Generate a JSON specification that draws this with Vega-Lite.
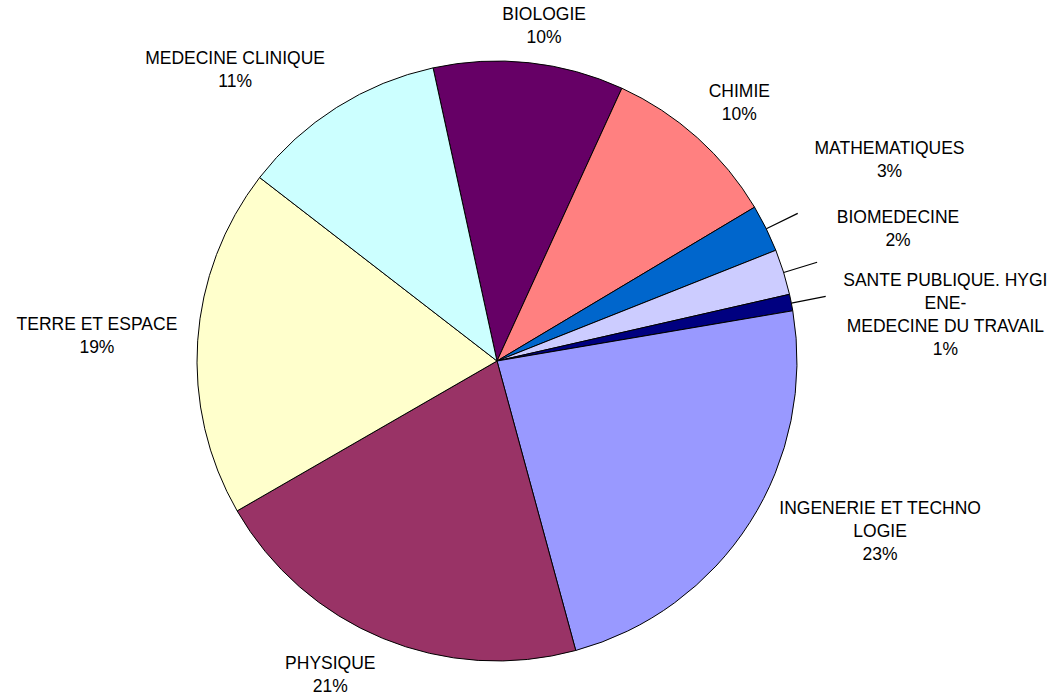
{
  "$schema": "https://vega.github.io/schema/vega-lite/v6.json",
  "width": 994,
  "height": 670,
  "autosize": {"type": "none"},
  "padding": {"left": 0, "top": 26, "right": 62, "bottom": 0},
  "background": "white",
  "config": {"view": {"stroke": null}},
  "data": {"values": [
    {"order": 1, "name": "BIOLOGIE", "value": 10.25},
    {"order": 2, "name": "CHIMIE", "value": 9.6},
    {"order": 3, "name": "MATHEMATIQUES", "value": 2.55},
    {"order": 4, "name": "BIOMEDECINE", "value": 2.45},
    {"order": 5, "name": "SANTE PUBLIQUE. HYGI\nENE-\nMEDECINE DU TRAVAIL", "value": 0.89},
    {"order": 6, "name": "INGENERIE ET TECHNO\nLOGIE", "value": 23.45},
    {"order": 7, "name": "PHYSIQUE", "value": 20.9},
    {"order": 8, "name": "TERRE ET ESPACE", "value": 18.8},
    {"order": 9, "name": "MEDECINE CLINIQUE", "value": 11.11}
  ]},
  "transform": [
    {"stack": "value", "groupby": [], "sort": [{"field": "order", "order": "ascending"}], "as": ["v0", "v1"]},
    {"calculate": "(datum.v0 + datum.v1) / 2", "as": "mid"},
    {"calculate": "datum.mid + 0.06", "as": "mid2"},
    {"calculate": "datum.name + '\\n' + format(datum.value, '.0f') + '%'", "as": "label"}
  ],
  "layer": [
    {
      "mark": {"type": "arc", "outerRadius": 300, "stroke": "black", "strokeWidth": 1},
      "encoding": {
        "theta": {"field": "v0", "type": "quantitative", "scale": {"type": "linear", "domain": [0, 100], "range": [-0.2147, 6.0685]}},
        "theta2": {"field": "v1"},
        "color": {"field": "order", "type": "nominal", "legend": null,
          "scale": {"domain": [1, 2, 3, 4, 5, 6, 7, 8, 9],
                    "range": ["#660066", "#FF8080", "#0066CC", "#CCCCFF", "#000080", "#9999FF", "#993366", "#FFFFCC", "#CCFFFF"]}}
      }
    },
    {
      "transform": [{"filter": "datum.order >= 3 && datum.order <= 5"}],
      "mark": {"type": "arc", "innerRadius": 300, "outerRadius": 335, "fill": "black"},
      "encoding": {
        "theta": {"field": "mid", "type": "quantitative", "scale": {"type": "linear", "domain": [0, 100], "range": [-0.2147, 6.0685]}},
        "theta2": {"field": "mid2"}
      }
    },
    {
      "transform": [{"filter": "datum.order == 1"}],
      "mark": {"type": "text", "radius": 337, "dx": 11, "dy": -10.5, "align": "center", "baseline": "middle", "fontSize": 17.5, "font": "Liberation Sans", "lineBreak": "\n", "lineHeight": 23, "color": "black"},
      "encoding": {"theta": {"field": "mid", "type": "quantitative", "stack": null, "scale": {"type": "linear", "domain": [0, 100], "range": [-0.2147, 6.0685]}}, "text": {"field": "label"}}
    },
    {
      "transform": [{"filter": "datum.order == 2"}],
      "mark": {"type": "text", "radius": 354, "dx": 6, "dy": -5.5, "align": "center", "baseline": "middle", "fontSize": 17.5, "font": "Liberation Sans", "lineBreak": "\n", "lineHeight": 23, "color": "black"},
      "encoding": {"theta": {"field": "mid", "type": "quantitative", "stack": null, "scale": {"type": "linear", "domain": [0, 100], "range": [-0.2147, 6.0685]}}, "text": {"field": "label"}}
    },
    {
      "transform": [{"filter": "datum.order == 3"}],
      "mark": {"type": "text", "radius": 441, "dx": -3, "dy": -16.5, "align": "center", "baseline": "middle", "fontSize": 17.5, "font": "Liberation Sans", "lineBreak": "\n", "lineHeight": 23, "color": "black"},
      "encoding": {"theta": {"field": "mid", "type": "quantitative", "stack": null, "scale": {"type": "linear", "domain": [0, 100], "range": [-0.2147, 6.0685]}}, "text": {"field": "label"}}
    },
    {
      "transform": [{"filter": "datum.order == 4"}],
      "mark": {"type": "text", "radius": 422, "dx": -2, "dy": -17.5, "align": "center", "baseline": "middle", "fontSize": 17.5, "font": "Liberation Sans", "lineBreak": "\n", "lineHeight": 23, "color": "black"},
      "encoding": {"theta": {"field": "mid", "type": "quantitative", "stack": null, "scale": {"type": "linear", "domain": [0, 100], "range": [-0.2147, 6.0685]}}, "text": {"field": "label"}}
    },
    {
      "transform": [{"filter": "datum.order == 5"}],
      "mark": {"type": "text", "radius": 450, "dx": 7, "dy": 7.5, "align": "center", "baseline": "middle", "fontSize": 17.5, "font": "Liberation Sans", "lineBreak": "\n", "lineHeight": 23, "color": "black"},
      "encoding": {"theta": {"field": "mid", "type": "quantitative", "stack": null, "scale": {"type": "linear", "domain": [0, 100], "range": [-0.2147, 6.0685]}}, "text": {"field": "label"}}
    },
    {
      "transform": [{"filter": "datum.order == 6"}],
      "mark": {"type": "text", "radius": 419, "dx": 30, "dy": -78, "align": "center", "baseline": "middle", "fontSize": 17.5, "font": "Liberation Sans", "lineBreak": "\n", "lineHeight": 23, "color": "black"},
      "encoding": {"theta": {"field": "mid", "type": "quantitative", "stack": null, "scale": {"type": "linear", "domain": [0, 100], "range": [-0.2147, 6.0685]}}, "text": {"field": "label"}}
    },
    {
      "transform": [{"filter": "datum.order == 7"}],
      "mark": {"type": "text", "radius": 356, "dx": -31, "dy": -26.5, "align": "center", "baseline": "middle", "fontSize": 17.5, "font": "Liberation Sans", "lineBreak": "\n", "lineHeight": 23, "color": "black"},
      "encoding": {"theta": {"field": "mid", "type": "quantitative", "stack": null, "scale": {"type": "linear", "domain": [0, 100], "range": [-0.2147, 6.0685]}}, "text": {"field": "label"}}
    },
    {
      "transform": [{"filter": "datum.order == 8"}],
      "mark": {"type": "text", "radius": 401, "dx": 0, "dy": -8.5, "align": "center", "baseline": "middle", "fontSize": 17.5, "font": "Liberation Sans", "lineBreak": "\n", "lineHeight": 23, "color": "black"},
      "encoding": {"theta": {"field": "mid", "type": "quantitative", "stack": null, "scale": {"type": "linear", "domain": [0, 100], "range": [-0.2147, 6.0685]}}, "text": {"field": "label"}}
    },
    {
      "transform": [{"filter": "datum.order == 9"}],
      "mark": {"type": "text", "radius": 391, "dx": -53, "dy": 28.5, "align": "center", "baseline": "middle", "fontSize": 17.5, "font": "Liberation Sans", "lineBreak": "\n", "lineHeight": 23, "color": "black"},
      "encoding": {"theta": {"field": "mid", "type": "quantitative", "stack": null, "scale": {"type": "linear", "domain": [0, 100], "range": [-0.2147, 6.0685]}}, "text": {"field": "label"}}
    }
  ]
}
